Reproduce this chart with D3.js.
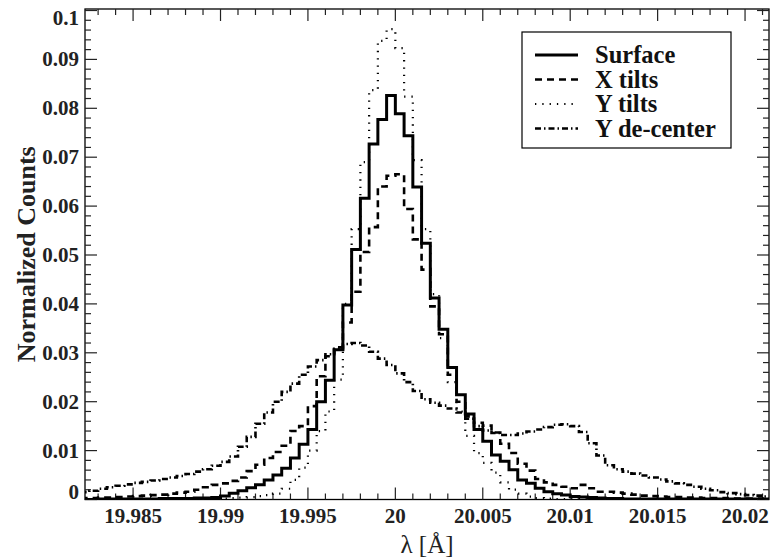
<!DOCTYPE html>
<html><head><meta charset="utf-8">
<script src="https://cdn.jsdelivr.net/npm/d3@7"></script>
<style>body{margin:0;background:#fff}svg{display:block}
text{font-family:"Liberation Serif","DejaVu Serif",Times,serif}</style>
</head><body>
<script>
const binEdges = [
 19.9820,19.9825,19.9830,19.9835,19.9840,19.9845,19.9850,19.9855,19.9860,19.9865,
 19.9870,19.9875,19.9880,19.9885,19.9890,19.9895,19.9900,19.9905,19.9910,19.9915,
 19.9920,19.9925,19.9930,19.9935,19.9940,19.9945,19.9950,19.9955,19.9960,19.9965,
 19.9970,19.9975,19.9980,19.9985,19.9990,19.9995,20.0000,20.0005,20.0010,20.0015,
 20.0020,20.0025,20.0030,20.0035,20.0040,20.0045,20.0050,20.0055,20.0060,20.0065,
 20.0070,20.0075,20.0080,20.0085,20.0090,20.0095,20.0100,20.0105,20.0110,20.0115,
 20.0120,20.0125,20.0130,20.0135,20.0140,20.0145,20.0150,20.0155,20.0160,20.0165,
 20.0170,20.0175,20.0180,20.0185,20.0190,20.0195,20.0200,20.0205,20.0210];
const binWidth = 0.0005;

const surface = [
 0,0,0.0001,0.0001,0.0001,0.0001,0.0001,0.0001,0.0001,0.0002,
 0.0002,0.0002,0.0002,0.0003,0.0003,0.0004,0.0007,0.0013,0.0018,0.0024,
 0.0030,0.0040,0.0050,0.0064,0.0085,0.0113,0.0143,0.0200,0.0244,0.0306,
 0.0398,0.0511,0.0616,0.0727,0.0777,0.0826,0.0789,0.0744,0.0639,0.0524,
 0.0412,0.0348,0.0270,0.0214,0.0175,0.0143,0.0119,0.0091,0.0078,0.0061,
 0.0040,0.0033,0.0023,0.0016,0.0012,0.0009,0.0006,0.0005,0.0004,0.0003,
 0.0002,0.0002,0.0001,0.0001,0.0001,0.0001,0.0001,0.0001,0.0001,0.0001,
 0.0001,0.0001,0.0001,0.0001,0.0001,0.0001,0.0001,0.0001,0.0001];

const xTilts = [
 0.0003,0.0003,0.0004,0.0004,0.0005,0.0006,0.0007,0.0008,0.0009,0.0010,
 0.0012,0.0014,0.0016,0.0020,0.0025,0.0030,0.0033,0.0038,0.0045,0.0058,
 0.0071,0.0085,0.0097,0.0110,0.0140,0.0150,0.0191,0.0252,0.0293,0.0311,
 0.0362,0.0425,0.0506,0.0557,0.0640,0.0662,0.0665,0.0594,0.0532,0.0470,
 0.0395,0.0338,0.0255,0.0200,0.0170,0.0157,0.0151,0.0137,0.0114,0.0095,
 0.0073,0.0059,0.0042,0.0035,0.0030,0.0026,0.0023,0.0030,0.0023,0.0016,
 0.0016,0.0014,0.0012,0.0010,0.0008,0.0007,0.0006,0.0005,0.0005,0.0004,
 0.0004,0.0003,0.0003,0.0003,0.0002,0.0002,0.0002,0.0002,0.0001];

const yTilts = [
 0,0,0,0,0,0,0,0,0,0,
 0,0,0.0001,0.0001,0.0001,0.0002,0.0002,0.0003,0.0004,0.0005,
 0.0007,0.0009,0.0012,0.0022,0.0040,0.0065,0.0100,0.0140,0.0180,0.0245,
 0.0400,0.0553,0.0690,0.0837,0.0938,0.0962,0.0923,0.0824,0.0694,0.0553,
 0.0420,0.0330,0.0240,0.0180,0.0130,0.0095,0.0075,0.0055,0.0035,0.0020,
 0.0012,0.0006,0.0003,0.0002,0.0001,0.0001,0.0001,0,0,0,
 0,0,0,0,0,0,0,0,0,0,
 0,0,0,0,0,0,0,0,0];

const yDecenter = [
 0.0015,0.0018,0.0022,0.0025,0.0028,0.0031,0.0034,0.0036,0.0039,0.0042,
 0.0045,0.0048,0.0052,0.0057,0.0062,0.0069,0.0077,0.0088,0.0108,0.0128,
 0.0155,0.0178,0.0200,0.0220,0.0237,0.0255,0.0272,0.0285,0.0297,0.0308,
 0.0318,0.0320,0.0315,0.0302,0.0288,0.0275,0.0258,0.0240,0.0222,0.0205,
 0.0198,0.0192,0.0186,0.0178,0.0165,0.0150,0.0141,0.0136,0.0132,0.0132,
 0.0135,0.0139,0.0143,0.0148,0.0153,0.0154,0.0150,0.0138,0.0115,0.0090,
 0.0070,0.0062,0.0057,0.0053,0.0049,0.0045,0.0041,0.0037,0.0033,0.0030,
 0.0026,0.0022,0.0019,0.0015,0.0013,0.0011,0.0009,0.0008,0.0006];

const seriesNames = ["Surface","X tilts","Y tilts","Y de-center"];
const seriesData = [surface, xTilts, yTilts, yDecenter];

const xTickValues = [19.985,19.99,19.995,20,20.005,20.01,20.015,20.02];
const xTickLabels = ["19.985","19.99","19.995","20","20.005","20.01","20.015","20.02"];
const yTickValues = [0,0.01,0.02,0.03,0.04,0.05,0.06,0.07,0.08,0.09,0.1];
const yTickLabels = ["0","0.01","0.02","0.03","0.04","0.05","0.06","0.07","0.08","0.09","0.1"];
const xDomain = [19.98225, 20.02137];
const yDomain = [0, 0.1];
const xLabel = "λ [Å]";
const yLabel = "Normalized Counts";

// ---- layout / style ----
const W = 771, H = 559;
const L = 85, R = 769, T = 9, B = 499.5;
const styles = [
  {w:3, dash:null},
  {w:2.6, dash:"7,5"},
  {w:2.2, dash:"1.3,6"},
  {w:2.6, dash:"6,3,1.5,3"}
];

const svg = d3.select("body").append("svg").attr("width",W).attr("height",H);
const x = d3.scaleLinear().domain(xDomain).range([L,R]);
const y = d3.scaleLinear().domain(yDomain).range([B,10.5]);

svg.append("defs").append("clipPath").attr("id","clip")
  .append("rect").attr("x",L).attr("y",T).attr("width",R-L).attr("height",B-T);

svg.append("rect").attr("x",L).attr("y",T).attr("width",R-L).attr("height",B-T)
  .attr("fill","none").attr("stroke","#000").attr("stroke-width",1.3);

const xMinor = d3.range(19.983, 20.0215, 0.001).filter(v=>!xTickValues.some(t=>Math.abs(t-v)<1e-6));
const yMinor = d3.range(0.002, 0.1, 0.002).filter(v=>!yTickValues.some(t=>Math.abs(t-v)<1e-6));
const tk = svg.append("g").attr("stroke","#222").attr("stroke-width",1.2);
function xt(vals, len){
  vals.forEach(v=>{
    const px = x(v);
    tk.append("line").attr("x1",px).attr("x2",px).attr("y1",B).attr("y2",B-len);
    tk.append("line").attr("x1",px).attr("x2",px).attr("y1",T).attr("y2",T+len);
  });
}
function yt(vals, len){
  vals.forEach(v=>{
    const py = y(v);
    tk.append("line").attr("x1",L).attr("x2",L+len).attr("y1",py).attr("y2",py);
    tk.append("line").attr("x1",R).attr("x2",R-len).attr("y1",py).attr("y2",py);
  });
}
xt(xTickValues,12); xt(xMinor,6);
yt(yTickValues,12); yt(yMinor,6);

const lab = svg.append("g").attr("font-weight","bold").attr("font-size",21).attr("fill","#222");
xTickValues.forEach((v,i)=>{
  lab.append("text").attr("x",x(v)).attr("y",523).attr("text-anchor","middle").text(xTickLabels[i]);
});
yTickValues.forEach((v,i)=>{
  let py = y(v)+7;
  if (i===yTickValues.length-1) py = y(v)+14;
  if (i===0) py = y(v)-1;
  lab.append("text").attr("x",79).attr("y",py).attr("text-anchor","end").text(yTickLabels[i]);
});

svg.append("text").attr("x",(L+R)/2).attr("y",553).attr("text-anchor","middle")
  .attr("font-size",25).attr("fill","#222").text(xLabel);
svg.append("text").attr("transform",`translate(35,${(T+B)/2}) rotate(-90)`)
  .attr("text-anchor","middle").attr("font-weight","bold")
  .attr("font-size",26).attr("fill","#222").text(yLabel);

const line = d3.line().curve(d3.curveStepAfter).x(d=>x(d[0])).y(d=>y(d[1]));
const g = svg.append("g").attr("clip-path","url(#clip)");
seriesData.forEach((vals,si)=>{
  const pts = binEdges.map((e,i)=>[e, vals[i]]);
  pts.push([binEdges[binEdges.length-1]+binWidth, vals[vals.length-1]]);
  g.append("path").attr("d",line(pts)).attr("fill","none").attr("stroke","#000")
    .attr("stroke-width",styles[si].w).attr("stroke-dasharray",styles[si].dash)
    .attr("stroke-linejoin","miter");
});

const lg = svg.append("g");
lg.append("rect").attr("x",522).attr("y",32).attr("width",209).attr("height",116)
  .attr("fill","#fff").attr("stroke","#000").attr("stroke-width",1.2);
seriesNames.forEach((n,i)=>{
  const cy = 55 + i*24.5;
  lg.append("line").attr("x1",535).attr("x2",578).attr("y1",cy).attr("y2",cy)
    .attr("stroke","#000").attr("stroke-width",styles[i].w).attr("stroke-dasharray",styles[i].dash);
  lg.append("text").attr("x",595).attr("y",cy+8)
    .attr("font-weight","bold").attr("font-size",24.5).attr("fill","#111").text(n);
});
</script>
</body></html>
